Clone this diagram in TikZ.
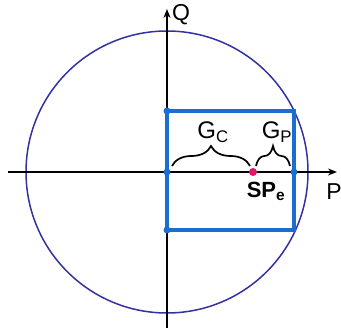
\documentclass[tikz,border=0pt]{standalone}
\usepackage{fontspec}
\setmainfont{Liberation Sans}
\usetikzlibrary{arrows.meta,decorations.pathreplacing}
\definecolor{rectblue}{RGB}{26,110,210}
\definecolor{circblue}{RGB}{50,50,160}
\definecolor{pinkdot}{RGB}{230,20,100}
\tikzset{
  axis/.style={line width=2pt,-{Stealth[length=9pt,width=7pt]}},
  rectline/.style={draw=rectblue,line width=3.2pt},
  bdot/.style={circle,fill=rectblue,inner sep=0pt,minimum size=7pt},
  pdot/.style={circle,fill=pinkdot,inner sep=0pt,minimum size=8pt},
  bracestyle/.style={decorate,decoration={brace,amplitude=20pt},line width=1.7pt},
  lab/.style={font=\fontsize{24}{24}\selectfont,inner sep=0pt}
}
\begin{document}
\begin{tikzpicture}[x=1pt,y=-1pt]
\useasboundingbox (0,0) rectangle (341,328);
\coordinate (c) at (167,172);
\draw[circblue,line width=1.5pt] (c) circle[radius=141];
\coordinate (xl) at (8,172);
\coordinate (xr) at (337,172);
\coordinate (yb) at (167,328);
\coordinate (yt) at (167,9);
\draw[axis] (xl) -- (xr);
\draw[axis] (yb) -- (yt);
\draw[rectline] (167,111) rectangle (294,230);
\node[bdot] (d1) at (167,111) {};
\node[bdot] (d2) at (167,172) {};
\node[bdot] (d3) at (167,230) {};
\node[bdot] (d4) at (294,172) {};
\node[pdot] (sp) at (253,172) {};
\coordinate (b1) at (172,166);
\coordinate (b2) at (250,166);
\coordinate (b3) at (256,166);
\coordinate (b4) at (290,166);
\draw[bracestyle] (b1) -- (b2);
\draw[bracestyle] (b3) -- (b4);
\node[lab] (gc) at (213,132) {G\textsubscript{C}};
\node[lab] (gp) at (277,132) {G\textsubscript{P}};
\node[lab,font=\fontsize{22}{22}\selectfont\bfseries] (spe) at (266,191) {SP\textsubscript{e}};
\node[lab,anchor=west,font=\fontsize{23}{23}\selectfont] (q) at (172,15) {Q};
\node[lab,anchor=east,font=\fontsize{23}{23}\selectfont] (p) at (342,192) {P};
\end{tikzpicture}
\end{document}
